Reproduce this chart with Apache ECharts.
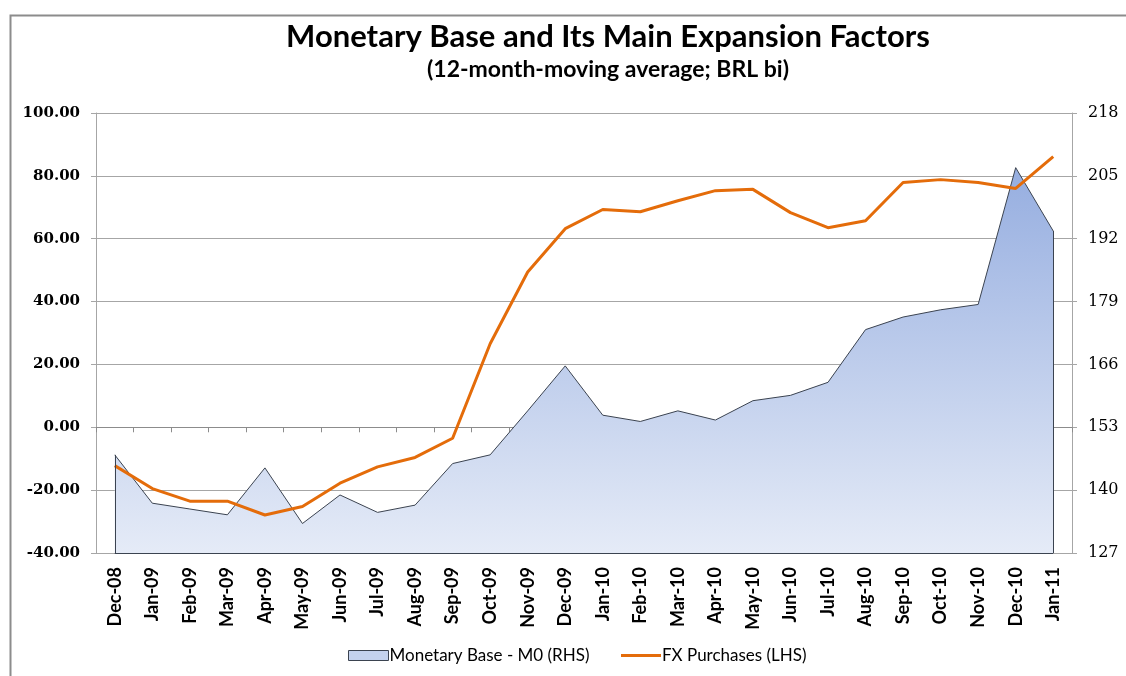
<!DOCTYPE html>
<html>
<head>
<meta charset="utf-8">
<title>Monetary Base and Its Main Expansion Factors</title>
<script src="https://cdn.jsdelivr.net/npm/echarts@6/dist/echarts.min.js"></script>
<style>
  html, body { margin: 0; padding: 0; background: #fff; }
  #chart { width: 1126px; height: 676px; }
</style>
</head>
<body>
<div id="chart"></div>
<script>
// categories
const months = ['Dec-08', 'Jan-09', 'Feb-09', 'Mar-09', 'Apr-09', 'May-09', 'Jun-09', 'Jul-09',
  'Aug-09', 'Sep-09', 'Oct-09', 'Nov-09', 'Dec-09', 'Jan-10', 'Feb-10', 'Mar-10', 'Apr-10',
  'May-10', 'Jun-10', 'Jul-10', 'Aug-10', 'Sep-10', 'Oct-10', 'Nov-10', 'Dec-10', 'Jan-11']

// Monetary Base - M0, right-hand scale
const monetaryBase = [147.3, 137.3, 136.1, 134.9, 144.6, 133.1, 139.0, 135.4, 136.9, 145.5,
  147.3, 156.4, 165.7, 155.5, 154.2, 156.4, 154.5, 158.5, 159.6, 162.3, 173.2, 175.8,
  177.3, 178.4, 206.7, 193.6]

// FX Purchases, left-hand scale
const fxPurchases = [-12.2, -19.5, -23.5, -23.5, -27.9, -25.2, -17.8, -12.6, -9.6, -3.5,
  26.6, 49.4, 63.2, 69.3, 68.6, 72.1, 75.3, 75.7, 68.3, 63.5, 65.7, 77.9, 78.8, 77.9,
  76.0, 86.1]

// axis ticks
const lhsMin = -40
const lhsMax = 100
const lhsStep = 20
const rhsTicks = [127, 140, 153, 166, 179, 192, 205, 218]

const chart = echarts.init(document.getElementById('chart'))

const gridColor = '#a6a6a6'
const areaEdge = '#3b4350'
const last = months.length - 1
const rhsMin = rhsTicks[0]

const option = {
  animation: false,
  backgroundColor: '#fff',
  graphic: [
    {
      type: 'rect',
      left: 8,
      top: 13,
      shape: { width: 1200, height: 700 },
      style: { fill: 'none', stroke: '#8c8c8c', lineWidth: 2 },
      silent: true
    }
  ],
  title: {
    text: 'Monetary Base and Its Main Expansion Factors',
    subtext: '(12-month-moving average; BRL bi)',
    left: 603,
    textAlign: 'center',
    top: 16,
    itemGap: 6,
    textStyle: {
      fontFamily: 'Lato',
      fontWeight: 'bold',
      fontSize: 31,
      color: '#000'
    },
    subtextStyle: {
      fontFamily: 'Lato',
      fontWeight: 'bold',
      fontSize: 23,
      color: '#000'
    }
  },
  legend: {
    bottom: 7,
    left: 343,
    itemWidth: 40,
    itemHeight: 10,
    itemGap: 30,
    textStyle: {
      fontFamily: 'Lato',
      fontSize: 17,
      color: '#000',
      padding: [0, 0, 0, -4]
    },
    data: [
      {
        name: 'Monetary Base - M0 (RHS)',
        icon: 'rect',
        itemStyle: { color: '#c4d2ee', borderColor: areaEdge, borderWidth: 1 }
      },
      {
        name: 'FX Purchases (LHS)',
        itemStyle: { opacity: 0 },
        lineStyle: { color: '#e46c0a', width: 3, opacity: 1 }
      }
    ]
  },
  grid: {
    left: 96,
    right: 54,
    top: 113,
    bottom: 123
  },
  xAxis: [
    {
      type: 'category',
      data: months,
      boundaryGap: true,
      position: 'bottom',
      axisLine: { show: false, onZero: false },
      axisTick: { show: false },
      axisLabel: {
        rotate: 90,
        interval: 0,
        margin: 14,
        fontFamily: 'Lato',
        fontWeight: 'bold',
        fontSize: 18,
        color: '#000'
      }
    },
    {
      type: 'category',
      data: months,
      boundaryGap: true,
      position: 'bottom',
      axisLine: {
        show: true,
        onZero: true,
        onZeroAxisIndex: 0,
        lineStyle: { color: '#8c8c8c', width: 1 }
      },
      axisTick: {
        show: true,
        interval: 0,
        length: 5,
        lineStyle: { color: '#8c8c8c' }
      },
      axisLabel: { show: false },
      splitLine: { show: false }
    }
  ],
  yAxis: [
    {
      type: 'value',
      position: 'left',
      min: lhsMin,
      max: lhsMax,
      interval: lhsStep,
      axisLine: { show: true, lineStyle: { color: gridColor } },
      axisTick: { show: true, length: 5, lineStyle: { color: gridColor } },
      splitLine: { show: true, lineStyle: { color: gridColor, width: 1 } },
      axisLabel: {
        margin: 16,
        fontFamily: 'DejaVu Serif',
        fontWeight: 'bold',
        fontSize: 15,
        color: '#000',
        formatter: v => v.toFixed(2)
      }
    },
    {
      type: 'value',
      position: 'right',
      min: rhsTicks[0],
      max: rhsTicks[rhsTicks.length - 1],
      axisLine: { show: true, lineStyle: { color: gridColor } },
      axisTick: { show: true, length: 5, customValues: rhsTicks, lineStyle: { color: gridColor } },
      splitLine: { show: false },
      axisLabel: {
        customValues: rhsTicks,
        margin: 16,
        fontFamily: 'DejaVu Serif',
        fontSize: 16,
        color: '#000'
      }
    }
  ],
  series: [
    {
      name: 'Monetary Base - M0 (RHS)',
      type: 'line',
      xAxisIndex: 0,
      yAxisIndex: 1,
      data: monetaryBase,
      symbol: 'none',
      showSymbol: false,
      lineStyle: { color: areaEdge, width: 1 },
      itemStyle: { color: '#c4d2ee' },
      areaStyle: {
        origin: 'start',
        opacity: 1,
        color: new echarts.graphic.LinearGradient(0, 0, 0, 1, [
          { offset: 0, color: '#96aee0' },
          { offset: 1, color: '#e5ebf7' }
        ])
      },
      markLine: {
        silent: true,
        symbol: ['none', 'none'],
        label: { show: false },
        lineStyle: { color: areaEdge, width: 1, type: 'solid' },
        emphasis: { disabled: true },
        data: [
          [{ coord: [0, rhsMin] }, { coord: [0, monetaryBase[0]] }],
          [{ coord: [last, rhsMin] }, { coord: [last, monetaryBase[last]] }],
          [{ coord: [0, rhsMin] }, { coord: [last, rhsMin] }]
        ]
      },
      z: 2
    },
    {
      name: 'FX Purchases (LHS)',
      type: 'line',
      xAxisIndex: 0,
      yAxisIndex: 0,
      data: fxPurchases,
      symbol: 'none',
      showSymbol: false,
      lineStyle: { color: '#e46c0a', width: 3 },
      itemStyle: { color: '#e46c0a' },
      z: 3
    }
  ]
}

chart.setOption(option)
window.addEventListener('resize', () => chart.resize())
</script>
</body>
</html>
